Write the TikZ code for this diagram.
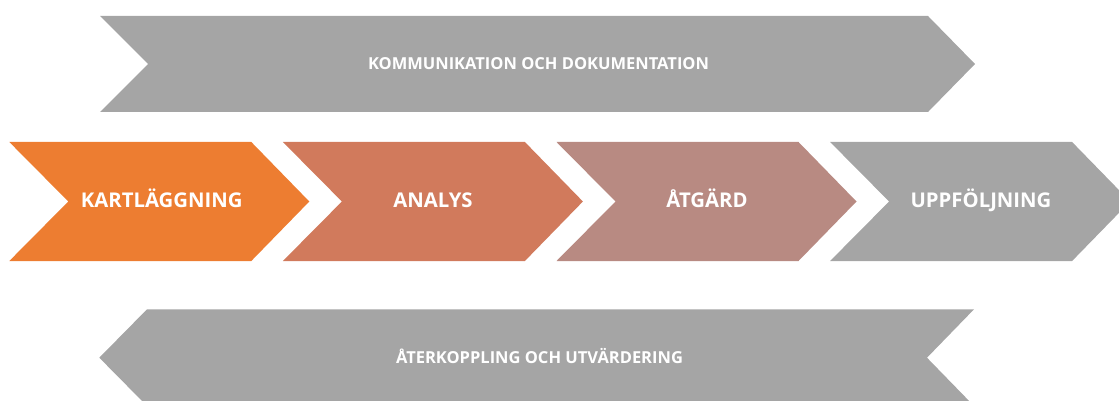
\documentclass[tikz,border=0pt]{standalone}
\usepackage{fontspec}
\setmainfont{Open Sans}
\definecolor{cOrange}{HTML}{ED7D31}
\definecolor{cSalmon}{HTML}{D17A5C}
\definecolor{cRose}{HTML}{B88A82}
\definecolor{cGray}{HTML}{A5A5A5}
\begin{document}
\begin{tikzpicture}[x=1pt,y=-1pt,
  bandtext/.style={text=white,font=\fontsize{16.5}{19}\selectfont\bfseries,inner sep=0pt,anchor=base},
  steptext/.style={text=white,font=\fontsize{20.3}{24}\selectfont\bfseries,inner sep=0pt,anchor=base}]
\useasboundingbox (0,0) rectangle (1119,401);
\clip (0,0) rectangle (1119,401);
% top band
\fill[cGray] (100,16) -- (928,16) -- (975,64) -- (928,112) -- (100,112) -- (148,64) -- cycle;
\node[bandtext] (komm) at (538.5,69.9) {KOMMUNIKATION OCH DOKUMENTATION};
% middle chevrons
\foreach \L/\c in {9.3/cOrange,282.9/cSalmon,556.5/cRose,830.1/cGray}{
  \fill[\c] (\L,142) -- (\L+242,142) -- (\L+300,201.5) -- (\L+242,261) -- (\L,261) -- (\L+59,201.5) -- cycle;
}
\node[steptext] (kart) at (161.7,207.1) {KARTLÄGGNING};
\node[steptext] (anal) at (433,207.1) {ANALYS};
\node[steptext] (atg) at (707,207.1) {ÅTGÄRD};
\node[steptext] (uppf) at (981,207.1) {UPPFÖLJNING};
% bottom band
\fill[cGray] (99.3,357.7) -- (147,309.3) -- (974,309.3) -- (927,357.7) -- (974,406) -- (147,406) -- cycle;
\node[bandtext] (ater) at (539.5,363.6) {ÅTERKOPPLING OCH UTVÄRDERING};
\end{tikzpicture}
\end{document}
